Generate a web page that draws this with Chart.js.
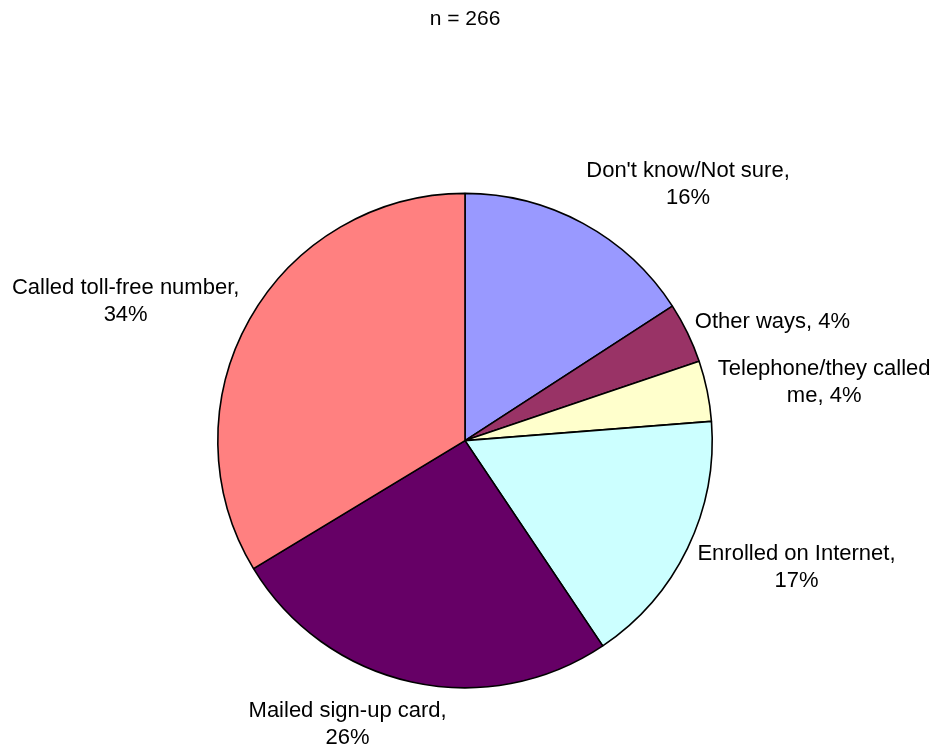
<!DOCTYPE html>
<html>
<head>
<meta charset="utf-8">
<title>Enrollment method</title>
<script src="https://cdn.jsdelivr.net/npm/chart.js@4"></script>
<style>
  html, body { margin: 0; padding: 0; background: #ffffff; }
  #wrap { width: 935px; height: 745px; }
</style>
</head>
<body>
<div id="wrap"><canvas id="pie" width="935" height="745"></canvas></div>
<script>
// Survey answers, clockwise from 12 o'clock
const categories = [
  "Don't know/Not sure",
  "Other ways",
  "Telephone/they called me",
  "Enrolled on Internet",
  "Mailed sign-up card",
  "Called toll-free number"
];
const percents = [16, 4, 4, 17, 26, 34];
const sampleSize = 266;

const sliceColors = ['#9999FF', '#993366', '#FFFFCC', '#CCFFFF', '#660066', '#FF8080'];

// Label centre relative to the slice's outer edge at its mid-angle
const labelNudge = [[105, -39], [85, -11], [117, -9], [109, 19], [-64, 42], [-124, -18]];

const FONT = '"Liberation Sans", Arial, Helvetica, sans-serif';
const LABEL_SIZE = 22;
const LINE_HEIGHT = 27;
const WRAP_WIDTH = 240;

function wrapText(ctx, text, maxWidth) {
  const words = text.split(' ');
  const lines = [];
  let line = '';
  words.forEach(w => {
    const trial = line ? line + ' ' + w : w;
    if (line && ctx.measureText(trial).width > maxWidth) {
      lines.push(line);
      line = w;
    } else {
      line = trial;
    }
  });
  if (line) lines.push(line);
  return lines;
}

const sliceLabels = {
  id: 'sliceLabels',
  afterDatasetsDraw(chart) {
    const ctx = chart.ctx;
    const meta = chart.getDatasetMeta(0);
    const values = chart.data.datasets[0].data;
    ctx.save();
    ctx.font = LABEL_SIZE + 'px ' + FONT;
    ctx.fillStyle = '#000000';
    ctx.textAlign = 'center';
    ctx.textBaseline = 'middle';
    meta.data.forEach((arc, i) => {
      const p = arc.getProps(['x', 'y', 'startAngle', 'endAngle', 'outerRadius'], true);
      const mid = (p.startAngle + p.endAngle) / 2;
      const ex = p.x + Math.cos(mid) * p.outerRadius;
      const ey = p.y + Math.sin(mid) * p.outerRadius;
      const cx = ex + labelNudge[i][0];
      const cy = ey + labelNudge[i][1];
      const text = chart.data.labels[i] + ', ' + values[i] + '%';
      const lines = wrapText(ctx, text, WRAP_WIDTH);
      lines.forEach((t, k) => {
        ctx.fillText(t, cx, cy + (k - (lines.length - 1) / 2) * LINE_HEIGHT);
      });
    });
    ctx.restore();
  }
};

new Chart(document.getElementById('pie'), {
  type: 'pie',
  data: {
    labels: categories,
    datasets: [{
      data: percents,
      backgroundColor: sliceColors,
      borderColor: '#000000',
      borderWidth: 1.6
    }]
  },
  options: {
    responsive: false,
    animation: false,
    layout: { padding: { top: 7, bottom: 56, left: 217, right: 222 } },
    plugins: {
      legend: { display: false },
      tooltip: { enabled: false },
      title: {
        display: true,
        text: 'n = ' + sampleSize,
        color: '#000000',
        font: { family: FONT, size: 21, weight: 'normal', lineHeight: 1.2 },
        padding: { top: 0, bottom: 160 }
      }
    }
  },
  plugins: [sliceLabels]
});
</script>
</body>
</html>
